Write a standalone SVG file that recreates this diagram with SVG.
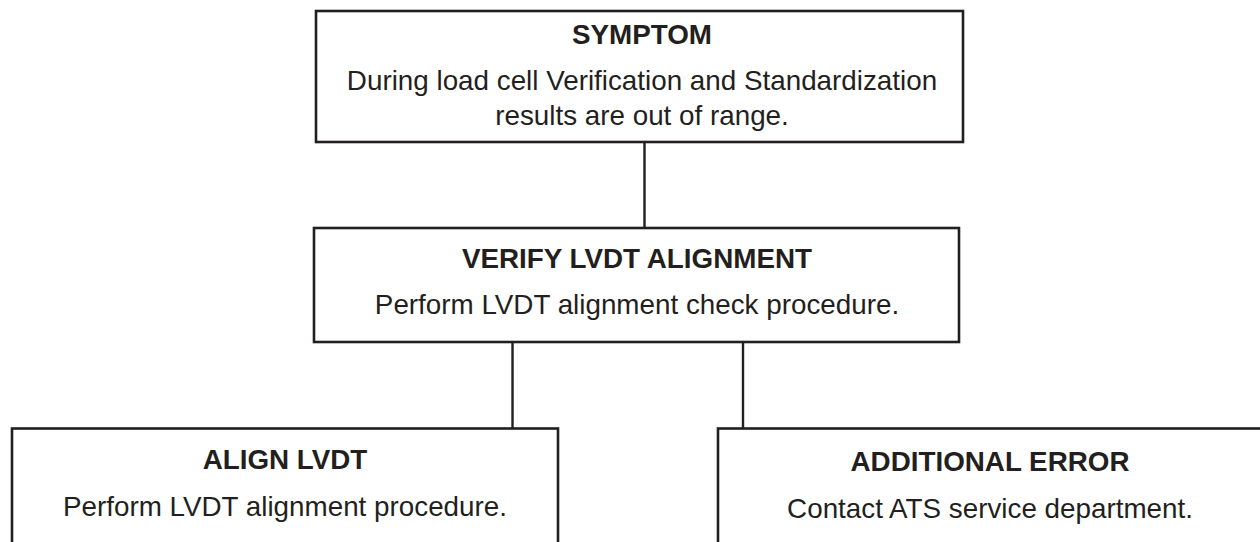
<svg xmlns="http://www.w3.org/2000/svg" width="1260" height="542" viewBox="0 0 1260 542">
<style>
.box{fill:#ffffff;stroke:#231f20;stroke-width:2.6}
.conn{stroke:#231f20;stroke-width:2.4;fill:none}
.t{font-family:"Liberation Sans",Arial,sans-serif;font-size:27.8px;fill:#231f20;text-anchor:middle}
.b{font-weight:bold}
</style>
<rect width="1260" height="542" fill="#ffffff"/>
<g id="connectors">
<line class="conn" x1="644.5" y1="142" x2="644.5" y2="228"/>
<line class="conn" x1="512.5" y1="342" x2="512.5" y2="428.5"/>
<line class="conn" x1="743" y1="342" x2="743" y2="428.5"/>
</g>
<g id="symptom">
<rect class="box" x="316" y="11" width="647" height="131"/>
<text class="t b" x="642" y="43.5">SYMPTOM</text>
<text class="t" x="642" y="90">During load cell Verification and Standardization</text>
<text class="t" x="642" y="125">results are out of range.</text>
</g>
<g id="verify">
<rect class="box" x="314" y="228" width="645" height="114"/>
<text class="t b" x="637" y="268">VERIFY LVDT ALIGNMENT</text>
<text class="t" x="637" y="314">Perform LVDT alignment check procedure.</text>
</g>
<g id="align">
<rect class="box" x="12" y="428.5" width="546" height="140"/>
<text class="t b" x="285" y="469">ALIGN LVDT</text>
<text class="t" x="285" y="516">Perform LVDT alignment procedure.</text>
</g>
<g id="error">
<rect class="box" x="718" y="428.5" width="570" height="140"/>
<text class="t b" x="990" y="470.5">ADDITIONAL ERROR</text>
<text class="t" x="990" y="518">Contact ATS service department.</text>
</g>
</svg>
